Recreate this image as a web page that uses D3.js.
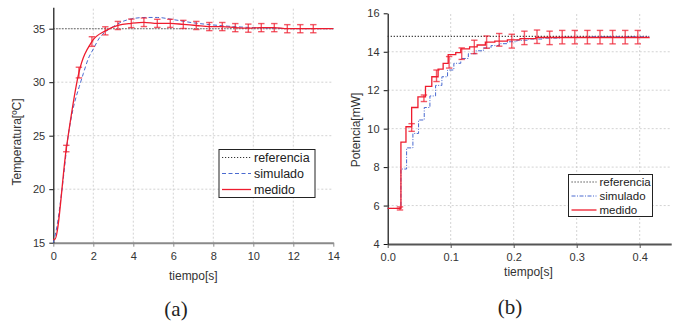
<!DOCTYPE html>
<html><head><meta charset="utf-8">
<script src="https://cdn.jsdelivr.net/npm/d3@7"></script>
<style>
body{margin:0;background:#fff;}
svg{display:block;font-family:"Liberation Sans",Arial,sans-serif;}
</style></head>
<body>
<svg id="c" width="680" height="325"></svg>
<script>
// ---------- Panel (a): temperature ----------
const tempTicksX = [0,2,4,6,8,10,12,14];
const tempTicksY = [15,20,25,30,35];
const tempRefT = [0,14];
const tempRefV = [35,35];
const tempSimT = [0,0.18,0.43,0.77,1.0,1.3,1.5,1.75,2.0,2.33,2.6,3.0,3.5,4.0,4.6,5.2,6.0,7.0,8.0,9.0,10.0,11.0,12.0,14.0];
const tempSimV = [15,16.5,19.9,25.3,27.6,29.6,30.8,32.2,33.1,34.2,34.7,35.2,35.7,35.95,36.05,36.05,35.85,35.55,35.35,35.2,35.1,35.05,35.0,35.0];
const tempMedT = [0,0.07,0.65,1.28,1.93,2.6,3.23,3.9,4.53,5.2,5.85,6.5,7.15,7.8,8.45,9.1,9.75,10.4,11.05,11.7,12.35,13.0,14.0];
const tempMedV = [15.3,15.3,23.8,30.9,33.8,34.8,35.3,35.5,35.6,35.5,35.5,35.4,35.3,35.2,35.2,35.1,35.05,35.1,35.1,35.0,35.0,35.0,35.0];
const tempErrT = [0.65,1.28,1.93,2.6,3.23,3.9,4.53,5.2,5.85,6.5,7.15,7.8,8.45,9.1,9.75,10.4,11.05,11.7,12.35,13.0];
const tempErrV = [23.8,30.9,33.8,34.8,35.3,35.5,35.6,35.5,35.5,35.4,35.3,35.2,35.2,35.1,35.05,35.1,35.1,35.0,35.0,35.0];
const tempErrE = [0.3,0.5,0.45,0.38,0.38,0.4,0.4,0.38,0.38,0.38,0.38,0.38,0.38,0.38,0.38,0.38,0.38,0.38,0.38,0.38];

// ---------- Panel (b): power ----------
const powTicksX = [0.0,0.1,0.2,0.3,0.4];
const powTicksY = [4,6,8,10,12,14,16];
const powRefT = [0,0.415];
const powRefV = [14.8,14.8];
const powSimT = [0,0.021,0.030,0.040,0.049,0.058,0.067,0.076,0.086,0.095,0.105,0.116,0.128,0.140,0.152,0.164,0.177,0.19,0.205,0.222,0.245,0.275,0.32,0.415];
const powSimV = [5.85,7.9,9.0,9.75,10.45,11.1,11.7,12.25,12.7,13.05,13.4,13.65,13.9,14.05,14.2,14.32,14.42,14.52,14.6,14.66,14.71,14.75,14.78,14.78];
const powMedT = [0,0.021,0.029,0.038,0.048,0.060,0.070,0.080,0.088,0.096,0.108,0.116,0.13,0.142,0.155,0.17,0.19,0.21,0.235,0.415];
const powMedV = [5.85,9.3,10.1,11.1,11.65,12.2,12.7,13.1,13.4,13.85,13.95,14.15,14.25,14.35,14.5,14.55,14.62,14.68,14.74,14.76];
const powErrT = [0.0195,0.038,0.0575,0.0775,0.0975,0.1175,0.1375,0.157,0.177,0.197,0.217,0.237,0.257,0.277,0.297,0.317,0.337,0.357,0.377,0.397];
const powErrV = [5.85,10.06,11.58,12.75,13.45,13.9,14.25,14.5,14.62,14.55,14.72,14.78,14.72,14.76,14.76,14.76,14.76,14.76,14.76,14.76];
const powErrE = [0.08,0.2,0.17,0.3,0.3,0.3,0.35,0.32,0.33,0.36,0.35,0.35,0.35,0.35,0.35,0.35,0.35,0.35,0.35,0.35];

const legendLabels = ["referencia","simulado","medido"];

const svg = d3.select("#c");
const RED = "#ee1c2e", BLUE = "#4a6ad0", REF = "#333";

function zip(a,b){return a.map((v,i)=>[v,b[i]]);}

function panel(o){
  const g = svg.append("g");
  const x = d3.scaleLinear().domain(o.xd).range(o.xr);
  const y = d3.scaleLinear().domain(o.yd).range(o.yr);
  // grid
  g.append("g").selectAll("line").data(o.tx.filter(v=>v!==o.xd[0] && x(v)<o.xr[1]-1)).join("line")
    .attr("x1",d=>x(d)).attr("x2",d=>x(d)).attr("y1",o.yr[0]).attr("y2",o.yr[1])
    .attr("stroke","#c8c8c8").attr("stroke-width",0.8).attr("stroke-dasharray","2,2");
  g.append("g").selectAll("line").data(o.ty.filter(v=>v!==o.yd[0] && v!==o.noGridY)).join("line")
    .attr("x1",o.xr[0]).attr("x2",o.xr[1]).attr("y1",d=>y(d)).attr("y2",d=>y(d))
    .attr("stroke","#c8c8c8").attr("stroke-width",0.8).attr("stroke-dasharray","2,2");
  // axes
  const ax = g.append("g").attr("transform",`translate(0,${o.yr[0]})`)
    .call(d3.axisBottom(x).tickValues(o.tx).tickFormat(o.fx).tickSize(4).tickSizeOuter(0));
  ax.select(".domain").attr("stroke",o.bottomColor).attr("stroke-width",2);
  ax.selectAll(".tick line").attr("stroke",o.bottomColor);
  ax.selectAll("text").attr("font-size",11).attr("fill","#333").attr("dy","0.9em");
  const ay = g.append("g").attr("transform",`translate(${o.xr[0]},0)`)
    .call(d3.axisLeft(y).tickValues(o.ty).tickSize(4).tickSizeOuter(0));
  ay.select(".domain").attr("stroke","#111").attr("stroke-width",1.2);
  ay.selectAll(".tick line").attr("stroke","#111");
  ay.selectAll("text").attr("font-size",11).attr("fill","#333").attr("dx","-0.1em");
  // lines
  const line = d3.line().x(d=>x(d[0])).y(d=>y(d[1]));
  g.append("path").datum(zip(o.refT,o.refV)).attr("d",line).attr("fill","none")
    .attr("stroke",REF).attr("stroke-width",1.1).attr("stroke-dasharray","1.2,1.8");
  g.append("path").datum(zip(o.simT,o.simV)).attr("d",line.curve(o.curve)).attr("fill","none")
    .attr("stroke",BLUE).attr("stroke-width",1).attr("stroke-dasharray",o.simDash);
  // error bars
  const eb = g.append("g").attr("stroke",RED).attr("stroke-opacity",0.72).attr("stroke-width",1.4);
  o.errT.forEach((t,i)=>{
    const cx = x(t), y1 = y(o.errV[i]-o.errE[i]), y2 = y(o.errV[i]+o.errE[i]);
    eb.append("line").attr("x1",cx).attr("x2",cx).attr("y1",y1).attr("y2",y2);
    eb.append("line").attr("x1",cx-3.2).attr("x2",cx+3.2).attr("y1",y1).attr("y2",y1);
    eb.append("line").attr("x1",cx-3.2).attr("x2",cx+3.2).attr("y1",y2).attr("y2",y2);
  });
  g.append("path").datum(zip(o.medT,o.medV)).attr("d",line.curve(o.curve)).attr("fill","none")
    .attr("stroke",RED).attr("stroke-width",1.3);
  // titles
  g.append("text").attr("x",(o.xr[0]+o.xr[1])/2+o.xtDx).attr("y",o.xtY).attr("text-anchor","middle")
    .attr("font-size",12).attr("fill","#333").text("tiempo[s]");
  g.append("text").attr("transform",`translate(${o.ytX},${o.ytY}) rotate(-90)`).attr("text-anchor","middle")
    .attr("font-size",12).attr("fill","#333").text(o.ytitle);
  g.append("text").attr("x",o.capX).attr("y",o.capY).attr("text-anchor","middle")
    .attr("font-family","'Liberation Serif','DejaVu Serif',serif").attr("font-size",21).attr("fill","#222").text(o.cap);
  // legend
  const L = o.leg;
  const lg = g.append("g");
  lg.append("rect").attr("x",L.x).attr("y",L.y).attr("width",L.w).attr("height",L.h)
    .attr("fill","#fff").attr("stroke","#222").attr("stroke-width",1);
  const styles = [{c:REF,d:"1.2,1.8",w:1.1},{c:BLUE,d:o.simDash,w:1},{c:RED,d:null,w:1.3}];
  legendLabels.forEach((lab,i)=>{
    const yy = L.y + L.pad + i*L.step;
    lg.append("line").attr("x1",L.x+3).attr("x2",L.x+3+L.sw).attr("y1",yy).attr("y2",yy)
      .attr("stroke",styles[i].c).attr("stroke-width",styles[i].w).attr("stroke-dasharray",styles[i].d);
    lg.append("text").attr("x",L.x+6+L.sw).attr("y",yy).attr("dy","0.35em").attr("font-size",L.fs)
      .attr("fill","#222").text(lab);
  });
}

panel({
  xd:[0,14], xr:[53.3,333.3], yd:[15,37], yr:[242.7,7.3],
  tx:tempTicksX, ty:tempTicksY, fx:d3.format("d"), bottomColor:"#8a8a8a",
  refT:tempRefT, refV:tempRefV, simT:tempSimT, simV:tempSimV, medT:tempMedT, medV:tempMedV,
  errT:tempErrT, errV:tempErrV, errE:tempErrE,
  curve:d3.curveMonotoneX, simDash:"4,2.5",
  xtDx:0, xtY:280, ytX:21, ytY:142, ytitle:"Temperatura[ºC]",
  cap:"(a)", capX:176, capY:316,
  leg:{x:219,y:149.5,w:96,h:48,pad:8,step:16,sw:29,fs:12.5}
});
panel({
  xd:[0,0.45], xr:[387.7,671.2], yd:[4,16], yr:[244,13.3],
  tx:powTicksX, ty:powTicksY, fx:d3.format(".1f"), bottomColor:"#555",
  refT:powRefT, refV:powRefV, simT:powSimT, simV:powSimV, medT:powMedT, medV:powMedV,
  errT:powErrT, errV:powErrV, errE:powErrE, noGridY:16,
  curve:d3.curveStepAfter, simDash:"4,1.5,1,1.5",
  xtDx:-1, xtY:276, ytX:360, ytY:130, ytitle:"Potencia[mW]",
  cap:"(b)", capX:510, capY:314,
  leg:{x:568.5,y:174.5,w:84,h:42,pad:7.5,step:14,sw:25,fs:11.5}
});
</script>
</body></html>
